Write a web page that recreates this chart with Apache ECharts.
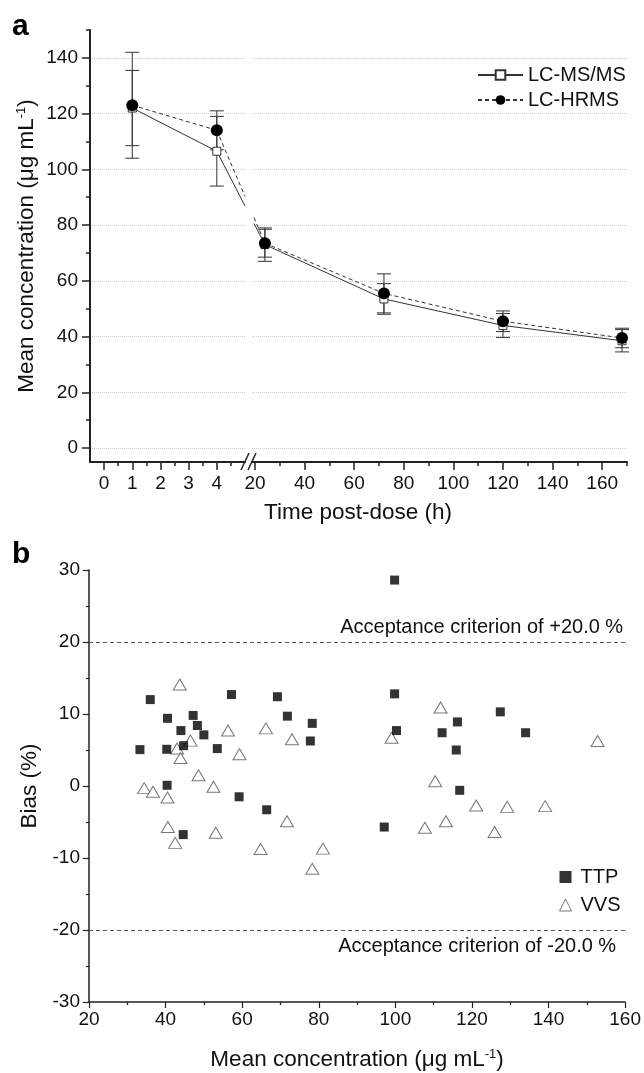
<!DOCTYPE html>
<html>
<head>
<meta charset="utf-8">
<script src="https://cdn.jsdelivr.net/npm/echarts@6/dist/echarts.min.js"></script>
<style>
html, body { margin: 0; padding: 0; background: #fff; }
#chart { width: 644px; height: 1073px; }
</style>
</head>
<body>
<div id="chart"></div>
<script>
// panel a: mean concentration vs time
var times = [1, 4, 24, 72, 120, 168];
var msmsMean = [122, 106.5, 73, 53.5, 44, 38.5];
var msmsSd = [13.5, 12.5, 6, 5.5, 4.3, 4];
var hrmsMean = [123, 114, 73.5, 55.5, 45.5, 39.5];
var hrmsSd = [19, 7, 5, 7, 3.7, 3.5];
var earlyTicks = [0, 1, 2, 3, 4];
var earlyMinor = [0.5, 1.5, 2.5, 3.5, 4.5];
var lateTicks = [20, 40, 60, 80, 100, 120, 140, 160];
var lateMinor = [30, 50, 70, 90, 110, 130, 150, 170];
var concTicks = [0, 20, 40, 60, 80, 100, 120, 140];
var concMinor = [10, 30, 50, 70, 90, 110, 130, 150];

// panel b: bias vs mean concentration
var ttpConc = [36.0, 57.2, 69.2, 40.5, 47.2, 48.3, 50.0, 44.0, 44.7, 33.3, 40.3, 53.5, 40.4, 59.2, 66.4, 44.6,
  71.8, 78.3, 77.8, 99.8, 100.3, 112.2, 116.2, 115.9, 116.8, 97.1, 99.8, 127.4, 134.0];
var ttpBias = [12.0, 12.7, 12.4, 9.4, 9.8, 8.4, 7.1, 7.7, 5.6, 5.05, 5.1, 5.2, 0.1, -1.5, -3.3, -6.75,
  9.7, 8.7, 6.25, 12.8, 7.7, 7.4, 8.9, 5.0, -0.6, -5.7, 28.6, 10.3, 7.4];
var vvsConc = [43.7, 56.3, 66.2, 46.5, 43.0, 43.9, 59.3, 73.0, 48.6, 34.4, 36.7, 40.5, 52.5, 40.6, 42.5,
  53.1, 64.8, 71.7, 81.1, 78.3, 111.8, 99.0, 110.4, 121.1, 113.2, 107.7, 152.8, 129.2, 139.1, 125.9];
var vvsBias = [14.1, 7.7, 8.0, 6.3, 5.2, 3.9, 4.4, 6.5, 1.5, -0.3, -0.8, -1.6, -0.1, -5.7, -7.9,
  -6.5, -8.75, -4.9, -8.7, -11.5, 10.9, 6.7, 0.65, -2.7, -4.9, -5.8, 6.25, -2.9, -2.8, -6.4];

var FONT = 'Liberation Sans, Arial, sans-serif';
var breakAt = 10; // times below this go left of the axis break

function pts(mean, early) {
    var out = [];
    for (var i = 0; i < times.length; i++) {
        if ((times[i] < breakAt) === early) out.push([times[i], mean[i]]);
    }
    return out;
}
function bars(mean, sd, early) {
    var out = [];
    for (var i = 0; i < times.length; i++) {
        if ((times[i] < breakAt) === early) out.push([times[i], mean[i] - sd[i], mean[i] + sd[i]]);
    }
    return out;
}
function pairs(xs, ys) {
    var out = [];
    for (var i = 0; i < xs.length; i++) out.push([xs[i], ys[i]]);
    return out;
}

function errorBar(params, api) {
    var x = api.value(0);
    var lo = api.coord([x, api.value(1)]);
    var hi = api.coord([x, api.value(2)]);
    var w = 7;
    var st = { stroke: '#333', lineWidth: 1 };
    return {
        type: 'group',
        children: [
            { type: 'line', shape: { x1: lo[0], y1: lo[1], x2: hi[0], y2: hi[1] }, style: st },
            { type: 'line', shape: { x1: lo[0] - w, y1: lo[1], x2: lo[0] + w, y2: lo[1] }, style: st },
            { type: 'line', shape: { x1: hi[0] - w, y1: hi[1], x2: hi[0] + w, y2: hi[1] }, style: st }
        ]
    };
}

var axisLineA = { onZero: false, lineStyle: { color: '#222', width: 2 } };
var axisLineB = { onZero: false, lineStyle: { color: '#222', width: 1.5 } };
var labelStyle = { fontSize: 19, color: '#111', fontFamily: FONT };
var titleStyle = {
    fontSize: 22.5, color: '#111', fontFamily: FONT,
    rich: { sup: { fontSize: 13, verticalAlign: 'top', color: '#111', fontFamily: FONT } }
};

function minorAxis(gridIndex, pos, min, max, values, len) {
    return {
        gridIndex: gridIndex, type: 'value', position: pos, min: min, max: max,
        axisLine: { show: false, onZero: false },
        axisTick: { show: true, inside: false, length: len, customValues: values, lineStyle: { color: '#222', width: 1.5 } },
        axisLabel: { show: false },
        splitLine: { show: false }
    };
}

function msmsLine(xi, yi, data) {
    return {
        name: 'LC-MS/MS', type: 'line', xAxisIndex: xi, yAxisIndex: yi, data: data,
        symbol: 'rect', symbolSize: 8, z: 4,
        itemStyle: { color: '#fff', borderColor: '#333', borderWidth: 1 },
        lineStyle: { color: '#333', width: 1 }
    };
}
function hrmsLine(xi, yi, data) {
    return {
        name: 'LC-HRMS', type: 'line', xAxisIndex: xi, yAxisIndex: yi, data: data,
        symbol: 'circle', symbolSize: 12, z: 5,
        itemStyle: { color: '#000' },
        lineStyle: { color: '#333', width: 1, type: [4, 3] }
    };
}
function errSeries(xi, yi, data) {
    return {
        type: 'custom', xAxisIndex: xi, yAxisIndex: yi, data: data, z: 3,
        renderItem: errorBar, encode: { x: 0, y: [1, 2] }, silent: true
    };
}

var chart = echarts.init(document.getElementById('chart'));

var option = {
    backgroundColor: '#fff',
    animation: false,
    textStyle: { fontFamily: FONT },
    grid: [
        { left: 90, top: 30, width: 155, height: 432 },
        { left: 252, top: 30, width: 375, height: 432 },
        { left: 89, top: 570, width: 538, height: 432 }
    ],
    xAxis: [
        {
            gridIndex: 0, type: 'value', position: 'bottom', min: -0.5, max: 5,
            axisLine: axisLineA,
            axisTick: { inside: false, length: 8, customValues: earlyTicks, lineStyle: { color: '#222', width: 1.5 } },
            axisLabel: Object.assign({ customValues: earlyTicks, margin: 12 }, labelStyle),
            splitLine: { show: false }
        },
        minorAxis(0, 'bottom', -0.5, 5, earlyMinor, 4),
        {
            gridIndex: 1, type: 'value', position: 'bottom', min: 18.8, max: 170,
            axisLine: axisLineA,
            axisTick: { inside: false, length: 8, customValues: lateTicks, lineStyle: { color: '#222', width: 1.5 } },
            axisLabel: Object.assign({ customValues: lateTicks, margin: 12 }, labelStyle),
            splitLine: { show: false }
        },
        minorAxis(1, 'bottom', 18.8, 170, lateMinor, 4),
        {
            gridIndex: 2, type: 'value', position: 'bottom', min: 20, max: 160, interval: 20,
            axisLine: axisLineB,
            axisTick: { inside: false, length: 6, lineStyle: { color: '#222', width: 1.2 } },
            minorTick: { show: true, splitNumber: 2, length: 3, lineStyle: { color: '#222', width: 1.2 } },
            axisLabel: Object.assign({ margin: 8 }, labelStyle),
            splitLine: { show: false },
            name: 'Mean concentration (μg mL{sup|-1})',
            nameLocation: 'middle', nameGap: 46,
            nameTextStyle: titleStyle
        }
    ],
    yAxis: [
        {
            gridIndex: 0, type: 'value', position: 'left', min: -5, max: 150,
            axisLine: axisLineA,
            axisTick: { inside: false, length: 8, customValues: concTicks, lineStyle: { color: '#222', width: 1.5 } },
            axisLabel: Object.assign({ customValues: concTicks, margin: 12 }, labelStyle),
            splitLine: { show: true, lineStyle: { color: '#ccc', type: 'dotted', width: 1 } },
            name: 'Mean concentration (μg mL{sup|-1})',
            nameLocation: 'middle', nameGap: 52,
            nameTextStyle: titleStyle
        },
        minorAxis(0, 'left', -5, 150, concMinor, 4),
        {
            gridIndex: 1, type: 'value', position: 'left', min: -5, max: 150,
            axisLine: { show: false, onZero: false },
            axisTick: { show: false, customValues: concTicks },
            axisLabel: { show: false, customValues: concTicks },
            splitLine: { show: true, lineStyle: { color: '#ccc', type: 'dotted', width: 1 } }
        },
        {
            gridIndex: 2, type: 'value', position: 'left', min: -30, max: 30, interval: 10,
            axisLine: axisLineB,
            axisTick: { inside: false, length: 6, lineStyle: { color: '#222', width: 1.2 } },
            minorTick: { show: true, splitNumber: 2, length: 3, lineStyle: { color: '#222', width: 1.2 } },
            axisLabel: Object.assign({ margin: 9 }, labelStyle),
            splitLine: { show: false },
            name: 'Bias (%)',
            nameLocation: 'middle', nameGap: 43,
            nameTextStyle: titleStyle
        }
    ],
    legend: [
        {
            data: ['LC-MS/MS', 'LC-HRMS'], orient: 'vertical', left: 475, top: 63,
            itemWidth: 45, itemHeight: 12, itemGap: 5,
            backgroundColor: '#fff', padding: [2, 6, 2, 2],
            textStyle: { fontSize: 20, color: '#111', fontFamily: FONT }
        },
        {
            data: [
                { name: 'TTP' },
                { name: 'VVS', itemStyle: { borderWidth: 1 } }
            ],
            orient: 'vertical', left: 554, top: 862,
            itemWidth: 12, itemHeight: 12, itemGap: 8,
            textStyle: { fontSize: 20, color: '#111', fontFamily: FONT, padding: [0, 0, 0, 4] }
        }
    ],
    graphic: [
        { type: 'text', x: 12, y: 12, style: { text: 'a', font: 'bold 30px ' + FONT, fill: '#000' } },
        { type: 'text', x: 12, y: 540, style: { text: 'b', font: 'bold 30px ' + FONT, fill: '#000' } },
        { type: 'text', x: 358, y: 501, style: { text: 'Time post-dose (h)', font: '22.5px ' + FONT, fill: '#111', textAlign: 'center' } }
    ],
    series: [
        errSeries(0, 0, bars(msmsMean, msmsSd, true)),
        errSeries(0, 0, bars(hrmsMean, hrmsSd, true)),
        errSeries(2, 2, bars(msmsMean, msmsSd, false)),
        errSeries(2, 2, bars(hrmsMean, hrmsSd, false)),
        msmsLine(0, 0, pts(msmsMean, true)),
        hrmsLine(0, 0, pts(hrmsMean, true)),
        msmsLine(2, 2, pts(msmsMean, false)),
        hrmsLine(2, 2, pts(hrmsMean, false)),
        {
            name: 'TTP', type: 'scatter', xAxisIndex: 4, yAxisIndex: 3,
            data: pairs(ttpConc, ttpBias), symbol: 'rect', symbolSize: 9,
            itemStyle: { color: '#000' }, z: 4,
            markLine: {
                silent: true, symbol: 'none',
                lineStyle: { color: '#555', type: [4, 3], width: 1 },
                data: [
                    { yAxis: 20, label: { formatter: 'Acceptance criterion of +20.0 %', position: 'insideEndTop', distance: [2, 5] } },
                    { yAxis: -20, label: { formatter: 'Acceptance criterion of -20.0 %', position: 'insideEndBottom', distance: [9, 6] } }
                ],
                label: { fontSize: 20, color: '#111', fontFamily: FONT }
            }
        },
        {
            name: 'VVS', type: 'scatter', xAxisIndex: 4, yAxisIndex: 3,
            data: pairs(vvsConc, vvsBias), symbol: 'triangle', symbolSize: [13, 11],
            itemStyle: { color: '#fff', borderColor: '#555', borderWidth: 1 }, z: 3
        }
    ]
};
chart.setOption(option);

// lines across the axis break, drawn from the last early and first late points
function breakLine(mean, dash) {
    var a = chart.convertToPixel({ xAxisIndex: 0, yAxisIndex: 0 }, [times[1], mean[1]]);
    var b = chart.convertToPixel({ xAxisIndex: 2, yAxisIndex: 2 }, [times[2], mean[2]]);
    var xl = chart.convertToPixel({ xAxisIndex: 0, yAxisIndex: 0 }, [5, 0])[0];
    var xr = xl + 9;
    function yAt(x) { return a[1] + (b[1] - a[1]) * (x - a[0]) / (b[0] - a[0]); }
    var st = { stroke: '#333', lineWidth: 1, lineDash: dash };
    return [
        { type: 'line', shape: { x1: a[0], y1: a[1], x2: xl, y2: yAt(xl) }, style: st, z: 3 },
        { type: 'line', shape: { x1: xr, y1: yAt(xr), x2: b[0], y2: b[1] }, style: st, z: 3 }
    ];
}
var axisY = chart.convertToPixel({ xAxisIndex: 0, yAxisIndex: 0 }, [0, -5])[1];
var extra = breakLine(msmsMean, null).concat(breakLine(hrmsMean, [4, 3]));
extra.push(
    { type: 'line', shape: { x1: 241, y1: axisY + 8, x2: 249, y2: axisY - 9 }, style: { stroke: '#222', lineWidth: 1.5 } },
    { type: 'line', shape: { x1: 248, y1: axisY + 8, x2: 256, y2: axisY - 9 }, style: { stroke: '#222', lineWidth: 1.5 } }
);
option.graphic = option.graphic.concat(extra);
chart.setOption({ graphic: option.graphic });
</script>
</body>
</html>
